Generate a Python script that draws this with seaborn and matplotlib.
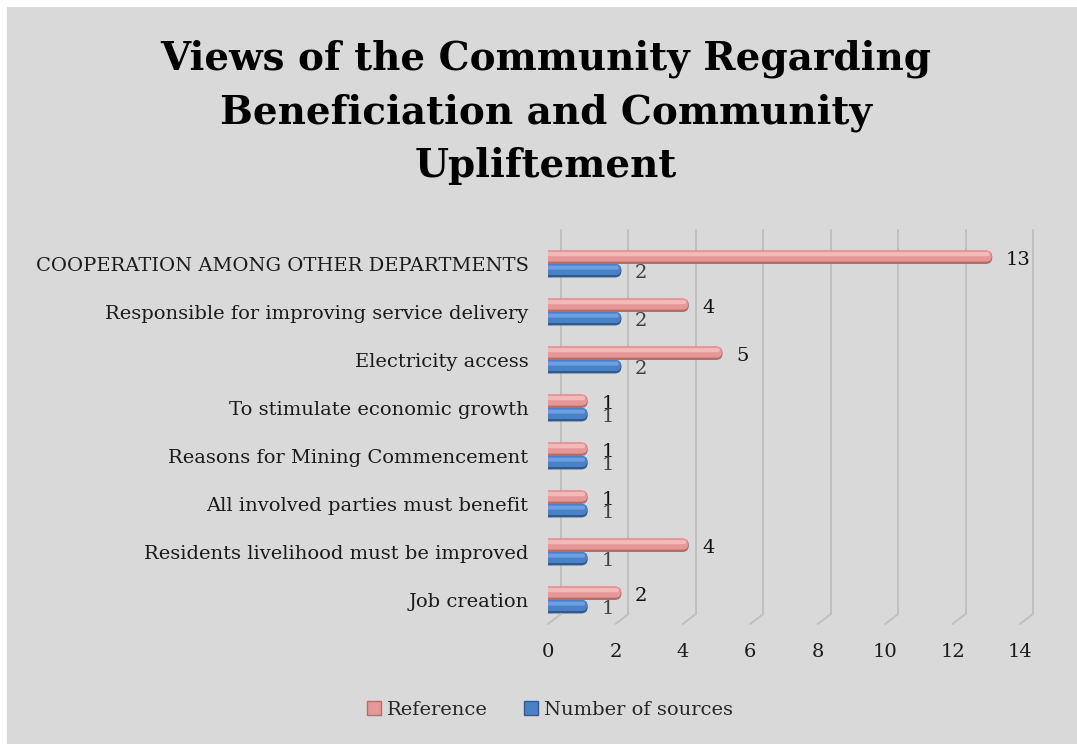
import numpy as np
import pandas as pd
import matplotlib
matplotlib.use("Agg")
import matplotlib.pyplot as plt
import matplotlib.transforms as mtransforms
from matplotlib.patches import FancyBboxPatch, Rectangle, Patch
from matplotlib.lines import Line2D
import seaborn as sns

# ---------------- data ----------------
categories = [
    "COOPERATION AMONG OTHER DEPARTMENTS",
    "Responsible for improving service delivery",
    "Electricity access",
    "To stimulate economic growth",
    "Reasons for Mining Commencement",
    "All involved parties must benefit",
    "Residents livelihood must be improved",
    "Job creation",
]
reference = [13, 4, 5, 1, 1, 1, 4, 2]
num_sources = [2, 2, 2, 1, 1, 1, 1, 1]
series = ["Reference", "Number of sources"]
x_ticks = [0, 2, 4, 6, 8, 10, 12, 14]
title = "Views of the Community Regarding\nBeneficiation and Community\nUpliftement"

df = pd.DataFrame({
    "category": categories * 2,
    "value": reference + num_sources,
    "series": [series[0]] * len(categories) + [series[1]] * len(categories),
})

# ---------------- style ----------------
sns.set_theme(style="white")
plt.rcParams["font.family"] = ["DejaVu Serif"]

PINK = "#e69898"
PINK_DARK = "#b46c6c"
PINK_HI = "#f4baba"
BLUE = "#4a80c6"
BLUE_DARK = "#2d5a94"
BLUE_HI = "#6d9fe0"
BG = "#d9d9d9"
GRID = "#bfbfbf"
W, H, DPI = 1077, 744, 100

fig = plt.figure(figsize=(W / DPI, H / DPI), dpi=DPI)
fig.patch.set_facecolor("white")
fig.patches.append(Rectangle((7 / W, 0), 1, (H - 7) / H, transform=fig.transFigure,
                             facecolor=BG, edgecolor="none", zorder=-10))

ax = fig.add_axes([548 / W, 120 / H, 472 / W, 384 / H])
ax.set_facecolor("none")

sns.barplot(data=df, y="category", x="value", hue="series", hue_order=series,
            order=categories, palette=[PINK, BLUE], width=0.56, dodge=True,
            orient="h", legend=False, ax=ax)

ax.set_xlim(0, 14)
ax.set_ylim(len(categories) - 0.5, -0.5)
ax.set_xticks(x_ticks)
ax.set_xticklabels([str(t) for t in x_ticks])
ax.set_xlabel("")
ax.set_ylabel("")
for s in ax.spines.values():
    s.set_visible(False)
ax.tick_params(axis="both", length=0, labelsize=14, colors="#1a1a1a")
ax.tick_params(axis="y", pad=14)
ax.tick_params(axis="x", pad=14)

bbox = ax.get_window_extent()
px_x = bbox.width / 14.0
px_y = bbox.height / len(categories)

# ---------------- 3-D style gridlines (back wall + floor) ----------------
off = mtransforms.ScaledTranslation(13 / DPI, 10 / DPI, fig.dpi_scale_trans)
blend = mtransforms.blended_transform_factory(ax.transData, ax.transAxes)
back = blend + off
for v in x_ticks:
    ax.add_line(Line2D([v, v], [0, 1], transform=back, color=GRID, lw=1.4,
                       clip_on=False, zorder=0))
    p_back = back.transform((v, 0))
    p_front = blend.transform((v, 0))
    pts = fig.transFigure.inverted().transform([p_back, p_front])
    fig.add_artist(Line2D(pts[:, 0], pts[:, 1], transform=fig.transFigure,
                          color=GRID, lw=1.4, zorder=0.5))

# ---------------- rounded cylinder bars ----------------
shift = ax.transData + mtransforms.ScaledTranslation(6 / DPI, 0, fig.dpi_scale_trans)


def capsule(x0, y0, length, hgt, color, z, r_ext):
    r_px = hgt * px_y / 2 * 0.98
    r = r_px / px_x
    aspect = (r_px / px_y) / r
    p = FancyBboxPatch((x0 - r_ext, y0), length + r_ext, hgt,
                       boxstyle=f"round,pad=0,rounding_size={r}",
                       mutation_aspect=aspect, facecolor=color,
                       edgecolor="none", zorder=z, clip_on=True)
    p.set_transform(shift)
    ax.add_patch(p)


styles = [(PINK, PINK_DARK, PINK_HI), (BLUE, BLUE_DARK, BLUE_HI)]
for cont, (fc, dc, hc) in zip(ax.containers, styles):
    for bar in cont:
        x, y = bar.get_x(), bar.get_y()
        w, h = bar.get_width(), bar.get_height()
        bar.set_visible(False)
        ext = 0.4
        capsule(x, y, w, h, dc, 3, ext)                              # dark underside
        capsule(x, y, w - 0.02, h * 0.82, fc, 3.1, ext)              # main body
        capsule(x, y + h * 0.12, w - 0.08, h * 0.3, hc, 3.2, ext)    # highlight

# value labels
lab1 = ax.bar_label(ax.containers[0], labels=[str(v) for v in reference], padding=14,
                    fontsize=14, color="#111111", zorder=6)
lab2 = ax.bar_label(ax.containers[1], labels=[str(v) for v in num_sources], padding=14,
                    fontsize=14, color="#404040", zorder=6)
for a in list(lab1) + list(lab2):
    a.xyann = (14, -2)

# ---------------- title ----------------
fig.text(546 / W, 1 - 40 / H, title, ha="center", va="top", multialignment="center",
         fontsize=28, fontweight="bold", color="black", linespacing=1.5)

# ---------------- legend ----------------
handles = [Patch(facecolor=PINK, edgecolor=PINK_DARK, lw=1.0),
           Patch(facecolor=BLUE, edgecolor=BLUE_DARK, lw=1.0)]
fig.legend(handles, series, loc="center", bbox_to_anchor=(550 / W, 1 - 710 / H),
           ncol=2, frameon=False, fontsize=14, handlelength=0.7, handleheight=0.7,
           handletextpad=0.3, columnspacing=1.9)

fig.savefig("out.png", dpi=DPI, facecolor=fig.get_facecolor())
